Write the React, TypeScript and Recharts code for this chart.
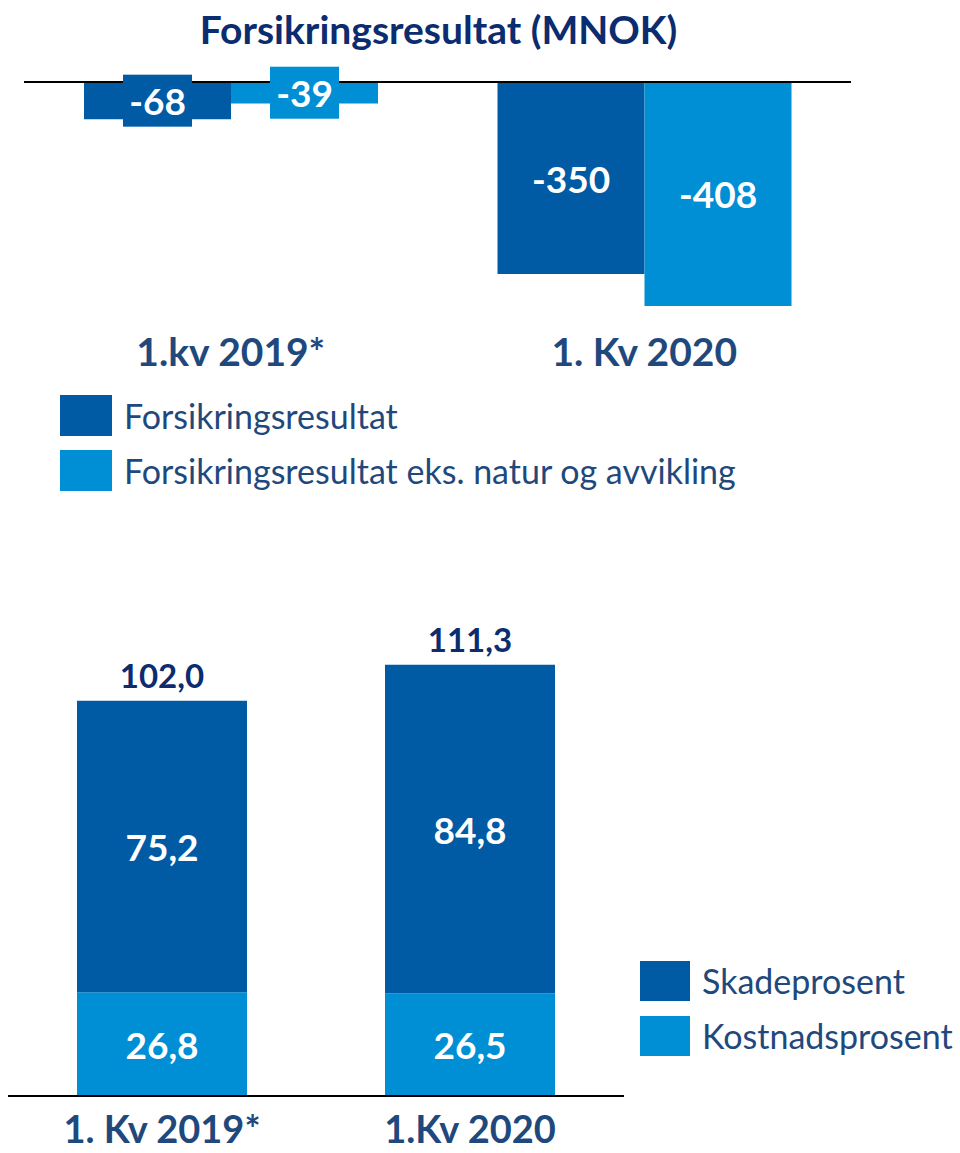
import React from 'react';
import { BarChart, Bar, XAxis, YAxis, ReferenceLine, LabelList, Legend } from 'recharts';

const FONT = 'Lato, "Open Sans", sans-serif';
const DARK = '#005BA4';
const LIGHT = '#008FD5';
const NAVY = '#0B2C6E';
const TEXT_BLUE = '#1F497D';

// ---- Top chart data ----
const topTitle = 'Forsikringsresultat (MNOK)';
const topCategories = ['1.kv 2019*', '1. Kv 2020'];
const forsikringsresultat = [-68, -350];
const forsikringsresultatEks = [-39, -408];
const topSeriesNames = ['Forsikringsresultat', 'Forsikringsresultat eks. natur og avvikling'];

// ---- Bottom chart data ----
const bottomCategories = ['1. Kv 2019*', '1.Kv 2020'];
const kostnadsprosent = [26.8, 26.5];
const skadeprosent = [75.2, 84.8];
const totals = [102.0, 111.3];
const bottomSeriesNames = ['Skadeprosent', 'Kostnadsprosent'];

const topData = topCategories.map((cat, i) => ({
  cat,
  a: forsikringsresultat[i],
  b: forsikringsresultatEks[i],
}));

const bottomData = bottomCategories.map((cat, i) => ({
  cat,
  kost: kostnadsprosent[i],
  skade: skadeprosent[i],
  total: totals[i],
}));

const fmt = (v: number) => v.toFixed(1).replace('.', ',');

const boxLabel = (fill: string) => (props: any) => {
  const { x, y, width, height, value } = props;
  const cx = Number(x) + Number(width) / 2;
  const cy = Number(y) + Number(height) / 2;
  const text = String(value);
  const w = text.length * 23;
  const h = 52;
  return (
    <g>
      <rect x={cx - w / 2} y={cy - h / 2} width={w} height={h} fill={fill} />
      <text
        x={cx}
        y={cy}
        dominantBaseline="central"
        textAnchor="middle"
        fill="#fff"
        fontSize={37}
        fontWeight={700}
        fontFamily={FONT}
      >
        {text}
      </text>
    </g>
  );
};

const centerLabel = (props: any) => {
  const { x, y, width, height, value } = props;
  const cx = Number(x) + Number(width) / 2;
  const cy = Number(y) + Number(height) / 2;
  return (
    <text
      x={cx}
      y={cy}
      dominantBaseline="central"
      textAnchor="middle"
      fill="#fff"
      fontSize={37}
      fontWeight={700}
      fontFamily={FONT}
    >
      {fmt(Number(value))}
    </text>
  );
};

const totalLabel = (props: any) => {
  const { x, y, width, value } = props;
  const cx = Number(x) + Number(width) / 2;
  return (
    <text
      x={cx}
      y={Number(y) - 26}
      dominantBaseline="central"
      textAnchor="middle"
      fill={NAVY}
      fontSize={33}
      fontWeight={700}
      fontFamily={FONT}
    >
      {fmt(Number(value))}
    </text>
  );
};

const catTick = (dy: number, size: number) => (props: any) => {
  const { x, y, payload } = props;
  return (
    <text
      x={x}
      y={Number(y) + dy}
      dominantBaseline="central"
      textAnchor="middle"
      fill={TEXT_BLUE}
      fontSize={size}
      fontWeight={700}
      fontFamily={FONT}
    >
      {payload.value}
    </text>
  );
};

const legendContent = (names: string[], colors: string[], sw: number, sh: number, pitch: number) => () => (
  <div style={{ fontFamily: FONT }}>
    {names.map((n, i) => (
      <div key={n} style={{ display: 'flex', alignItems: 'center', height: pitch }}>
        <div style={{ width: sw, height: sh, background: colors[i], flex: 'none' }} />
        <span style={{ marginLeft: 12, fontSize: 34, color: TEXT_BLUE, whiteSpace: 'nowrap' }}>{n}</span>
      </div>
    ))}
  </div>
);

export default function App() {
  return (
    <div style={{ position: 'absolute', left: 0, top: 0, width: 960, height: 1153, background: '#fff', overflow: 'hidden' }}>
      <div
        style={{
          position: 'absolute',
          left: 0,
          top: 7,
          width: 877,
          textAlign: 'center',
          fontFamily: FONT,
          fontWeight: 700,
          fontSize: 39,
          lineHeight: '44px',
          color: NAVY,
        }}
      >
        {topTitle}
      </div>
      <div style={{ position: 'absolute', left: 0, top: 0 }}>
        <BarChart
          width={960}
          height={520}
          data={topData}
          margin={{ top: 82, right: 109, left: 24, bottom: 161 }}
          barGap={0}
          barSize={147}
        >
          <XAxis dataKey="cat" axisLine={false} tickLine={false} height={30} tick={catTick(14, 39)} interval={0} />
          <YAxis hide width={0} type="number" domain={[-450, 0]} />
          <ReferenceLine y={0} stroke="#000" strokeWidth={2} />
          <Bar dataKey="a" name={topSeriesNames[0]} fill={DARK} isAnimationActive={false}>
            <LabelList dataKey="a" content={boxLabel(DARK)} />
          </Bar>
          <Bar dataKey="b" name={topSeriesNames[1]} fill={LIGHT} isAnimationActive={false}>
            <LabelList dataKey="b" content={boxLabel(LIGHT)} />
          </Bar>
          <Legend
            layout="vertical"
            align="center"
            verticalAlign="middle"
            wrapperStyle={{ position: 'absolute', left: 60, top: 388, width: 860 }}
            content={legendContent(topSeriesNames, [DARK, LIGHT], 52, 41, 55)}
          />
        </BarChart>
      </div>
      <div style={{ position: 'absolute', left: 0, top: 560 }}>
        <BarChart
          width={960}
          height={593}
          data={bottomData}
          margin={{ top: 71, right: 336, left: 8, bottom: 7 }}
          barSize={170}
        >
          <XAxis
            dataKey="cat"
            axisLine={{ stroke: '#000', strokeWidth: 2 }}
            tickLine={false}
            height={50}
            tick={catTick(24, 38)}
            interval={0}
          />
          <YAxis hide width={0} type="number" domain={[0, 120]} />
          <Bar dataKey="kost" stackId="s" name={bottomSeriesNames[1]} fill={LIGHT} isAnimationActive={false}>
            <LabelList dataKey="kost" content={centerLabel} />
          </Bar>
          <Bar dataKey="skade" stackId="s" name={bottomSeriesNames[0]} fill={DARK} isAnimationActive={false}>
            <LabelList dataKey="skade" content={centerLabel} />
            <LabelList dataKey="total" content={totalLabel} />
          </Bar>
          <Legend
            layout="vertical"
            align="center"
            verticalAlign="middle"
            wrapperStyle={{ position: 'absolute', left: 640, top: 393, width: 320 }}
            content={legendContent(bottomSeriesNames, [DARK, LIGHT], 50, 40, 55)}
          />
        </BarChart>
      </div>
    </div>
  );
}
